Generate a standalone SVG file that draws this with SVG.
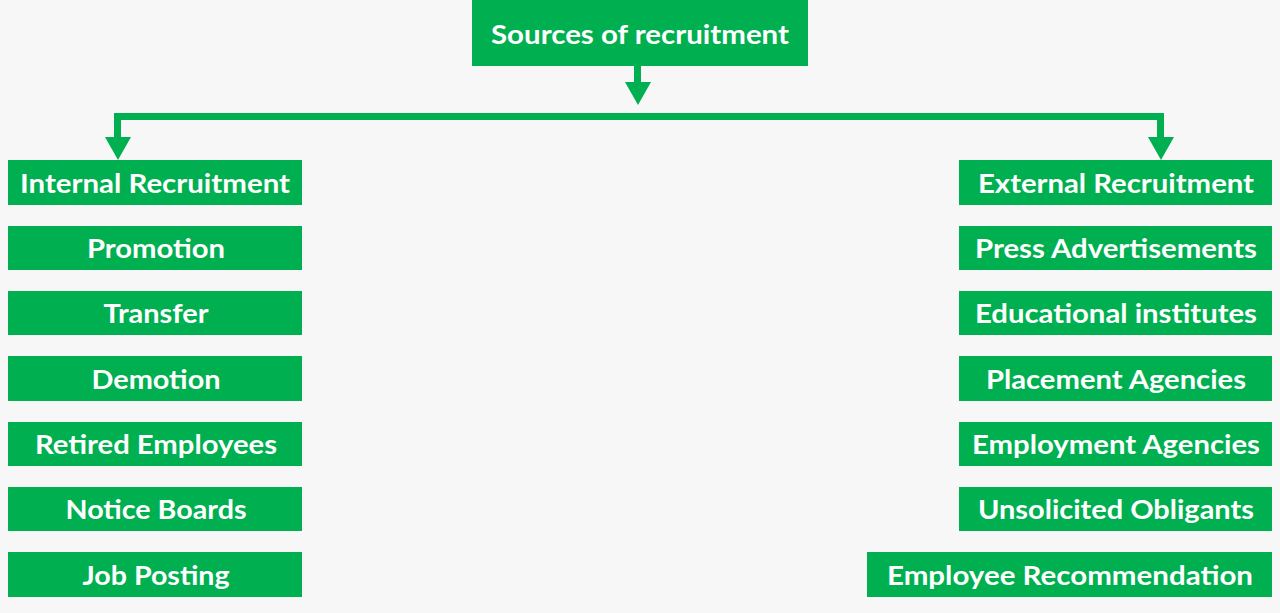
<svg xmlns="http://www.w3.org/2000/svg" width="1280" height="613" viewBox="0 0 1280 613">
<style>
.box{fill:#00b050}
.t{font-family:Lato,"Open Sans","Liberation Sans",sans-serif;font-weight:bold;font-size:27px;fill:#ffffff;text-anchor:middle}
.c{stroke:#00b050;stroke-width:7;fill:none}
.h{fill:#00b050}
</style>
<rect width="1280" height="613" fill="#f7f7f7"/>
<g id="root"><rect class="box" x="472" y="0" width="336" height="66"/><text class="t" x="640" y="44" textLength="298" lengthAdjust="spacingAndGlyphs">Sources of recruitment</text></g>
<g id="connectors">
<path class="c" d="M637.5 66V84"/>
<polygon class="h" points="625,82 651,82 638,105"/>
<path class="c" d="M117.5 140V116.5H1160.5V140"/>
<polygon class="h" points="105,137 131,137 118,160"/>
<polygon class="h" points="1148,137 1174,137 1161,160"/>
</g>
<g id="internal"><rect class="box" x="8" y="160" width="294" height="45"/><text class="t" x="155" y="193" textLength="270" lengthAdjust="spacingAndGlyphs">Internal Recruitment</text></g>
<g id="promotion"><rect class="box" x="8" y="226" width="294" height="44"/><text class="t" x="156" y="258" textLength="138" lengthAdjust="spacingAndGlyphs">Promotion</text></g>
<g id="transfer"><rect class="box" x="8" y="291" width="294" height="44"/><text class="t" x="156" y="323" textLength="105" lengthAdjust="spacingAndGlyphs">Transfer</text></g>
<g id="demotion"><rect class="box" x="8" y="356" width="294" height="45"/><text class="t" x="156" y="389" textLength="129" lengthAdjust="spacingAndGlyphs">Demotion</text></g>
<g id="retired"><rect class="box" x="8" y="422" width="294" height="44"/><text class="t" x="156" y="454" textLength="242" lengthAdjust="spacingAndGlyphs">Retired Employees</text></g>
<g id="notice"><rect class="box" x="8" y="487" width="294" height="44"/><text class="t" x="156" y="519" textLength="181" lengthAdjust="spacingAndGlyphs">Notice Boards</text></g>
<g id="job"><rect class="box" x="8" y="552" width="294" height="45"/><text class="t" x="156" y="585" textLength="147" lengthAdjust="spacingAndGlyphs">Job Posting</text></g>
<g id="external"><rect class="box" x="959" y="160" width="313" height="45"/><text class="t" x="1116" y="193" textLength="276" lengthAdjust="spacingAndGlyphs">External Recruitment</text></g>
<g id="press"><rect class="box" x="959" y="226" width="313" height="44"/><text class="t" x="1116" y="258" textLength="282" lengthAdjust="spacingAndGlyphs">Press Advertisements</text></g>
<g id="educational"><rect class="box" x="959" y="291" width="313" height="44"/><text class="t" x="1116" y="323" textLength="282" lengthAdjust="spacingAndGlyphs">Educational institutes</text></g>
<g id="placement"><rect class="box" x="959" y="356" width="313" height="45"/><text class="t" x="1116" y="389" textLength="260" lengthAdjust="spacingAndGlyphs">Placement Agencies</text></g>
<g id="employment"><rect class="box" x="959" y="422" width="313" height="44"/><text class="t" x="1116" y="454" textLength="288" lengthAdjust="spacingAndGlyphs">Employment Agencies</text></g>
<g id="unsolicited"><rect class="box" x="959" y="487" width="313" height="44"/><text class="t" x="1116" y="519" textLength="276" lengthAdjust="spacingAndGlyphs">Unsolicited Obligants</text></g>
<g id="recommendation"><rect class="box" x="867" y="552" width="405" height="45"/><text class="t" x="1070" y="585" textLength="366" lengthAdjust="spacingAndGlyphs">Employee Recommendation</text></g>
</svg>
